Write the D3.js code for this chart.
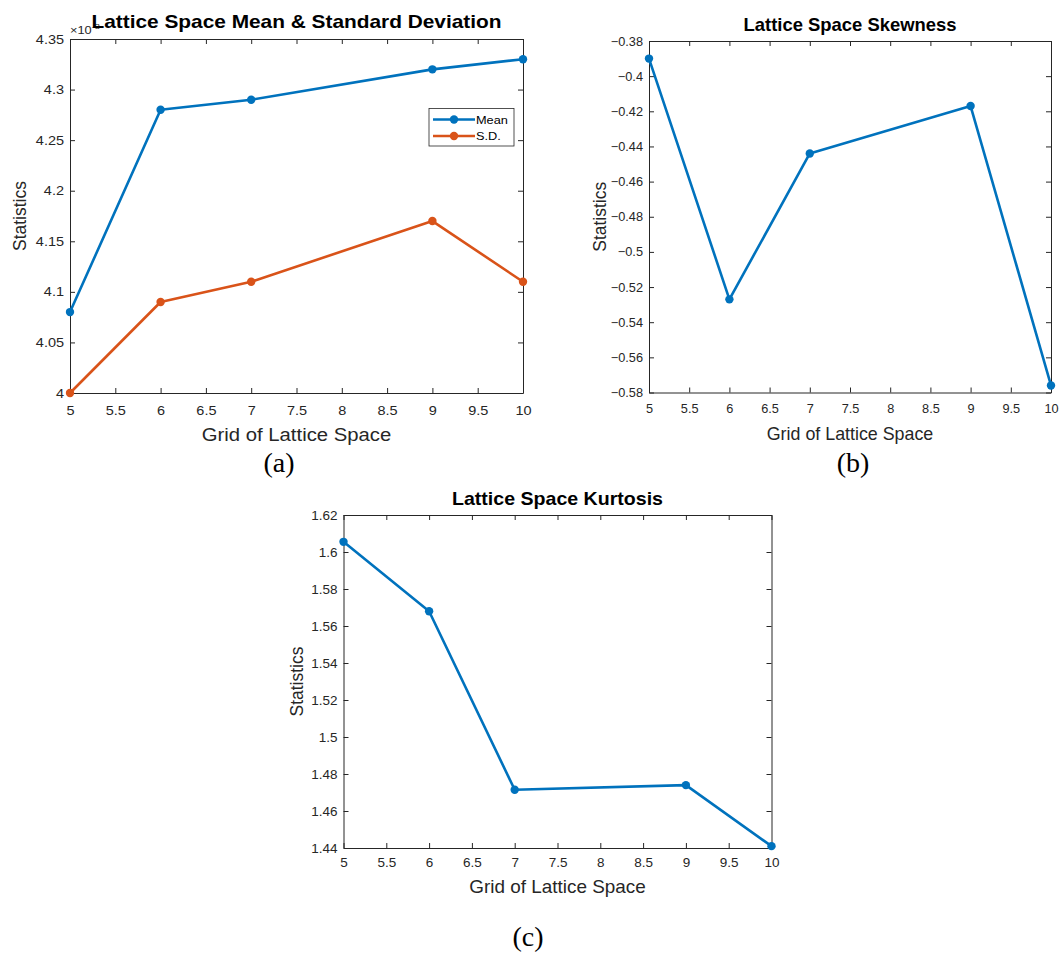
<!DOCTYPE html>
<html>
<head>
<meta charset="utf-8">
<script src="https://cdn.jsdelivr.net/npm/d3@7"></script>
<style>
  html, body { margin: 0; padding: 0; background: #fff; }
  svg { display: block; }
</style>
</head>
<body>
<script>
// Grid sizes of the lattice space (x values shared by all panels)
const grid = [5, 6, 7, 9, 10];

// Panel (a): mean and standard deviation (plotted on a x10^-3 axis)
const meanVals = [4.08e-3, 4.28e-3, 4.29e-3, 4.32e-3, 4.33e-3];
const sdVals   = [4.00e-3, 4.09e-3, 4.11e-3, 4.17e-3, 4.11e-3];
const seriesNames = ["Mean", "S.D."];

// Panel (b): skewness
const skewVals = [-0.390, -0.527, -0.444, -0.417, -0.576];

// Panel (c): kurtosis
const kurtVals = [1.6055, 1.568, 1.4715, 1.474, 1.441];

// Tick values
const xTicks    = [5, 5.5, 6, 6.5, 7, 7.5, 8, 8.5, 9, 9.5, 10];
const msTicks   = [4.00e-3, 4.05e-3, 4.10e-3, 4.15e-3, 4.20e-3, 4.25e-3, 4.30e-3, 4.35e-3];
const skewTicks = [-0.58, -0.56, -0.54, -0.52, -0.50, -0.48, -0.46, -0.44, -0.42, -0.40, -0.38];
const kurtTicks = [1.44, 1.46, 1.48, 1.50, 1.52, 1.54, 1.56, 1.58, 1.60, 1.62];

const BLUE = "#0072BD", ORANGE = "#D95319", AXIS = "#262626";
const SANS = "'Liberation Sans', Arial, Helvetica, sans-serif";
const SERIF = "'Liberation Serif', 'Times New Roman', serif";

const svg = d3.select("body").append("svg")
  .attr("width", 1059).attr("height", 973)
  .style("font-family", SANS);

function drawPanel(cfg) {
  const g = svg.append("g");
  const x = d3.scaleLinear().domain([5, 10]).range([cfg.x0, cfg.x1]);
  const y = d3.scaleLinear().domain(cfg.yDomain).range([cfg.y1, cfg.y0]);
  const k = cfg.kx;

  const styleAxis = sel => {
    sel.attr("font-size", null).attr("font-family", null);
    sel.select(".domain").attr("stroke", AXIS).attr("stroke-width", 1);
    sel.selectAll(".tick line").attr("stroke", AXIS).attr("stroke-width", 1);
    sel.selectAll(".tick text")
      .attr("fill", AXIS)
      .style("font-size", "12.5px")
      .style("font-family", SANS);
  };

  // bottom axis with labels
  const bx = g.append("g").attr("transform", `translate(0,${cfg.y1})`)
    .call(d3.axisBottom(x).tickValues(xTicks).tickSizeInner(-5).tickSizeOuter(0)
      .tickPadding(cfg.xPad).tickFormat(d3.format("~g")));
  styleAxis(bx);
  bx.selectAll(".tick text").attr("transform", `scale(${k},1)`);

  // top axis, ticks only
  const tx = g.append("g").attr("transform", `translate(0,${cfg.y0})`)
    .call(d3.axisTop(x).tickValues(xTicks).tickSizeInner(-5).tickSizeOuter(0).tickFormat(""));
  styleAxis(tx);

  // left axis with labels
  const ly = g.append("g").attr("transform", `translate(${cfg.x0},0)`)
    .call(d3.axisLeft(y).tickValues(cfg.yTicks).tickSizeInner(-5).tickSizeOuter(0)
      .tickPadding(6).tickFormat(cfg.yFmt));
  styleAxis(ly);
  ly.selectAll(".tick text").attr("transform", `scale(${k},1)`).attr("x", -6 / k);

  // right axis, ticks only
  const ry = g.append("g").attr("transform", `translate(${cfg.x1},0)`)
    .call(d3.axisRight(y).tickValues(cfg.yTicks).tickSizeInner(-5).tickSizeOuter(0).tickFormat(""));
  styleAxis(ry);

  // series lines and markers
  const line = d3.line().x(d => x(d[0])).y(d => y(d[1]));
  cfg.series.forEach(s => {
    const pts = d3.zip(grid, s.values);
    g.append("path").datum(pts)
      .attr("d", line).attr("fill", "none")
      .attr("stroke", s.color).attr("stroke-width", 2.6)
      .attr("stroke-linejoin", "round");
    g.selectAll(null).data(pts).enter().append("circle")
      .attr("cx", d => x(d[0])).attr("cy", d => y(d[1]))
      .attr("r", 4.2).attr("fill", s.color);
  });

  // title
  const cx = (cfg.x0 + cfg.x1) / 2;
  const title = g.append("text")
    .attr("x", cx).attr("y", cfg.titleY)
    .attr("text-anchor", "middle")
    .attr("textLength", cfg.titleW).attr("lengthAdjust", "spacingAndGlyphs")
    .style("font-size", "18.5px").style("font-weight", "bold").attr("fill", "#000")
    .text(cfg.title);

  // x axis label
  g.append("text")
    .attr("transform", `translate(${cx},${cfg.xlabelY}) scale(${k},1)`)
    .attr("text-anchor", "middle").attr("fill", AXIS)
    .style("font-size", "17.5px")
    .text("Grid of Lattice Space");

  // y axis label
  g.append("text")
    .attr("transform", `translate(${cfg.ylabelX},${(cfg.y0 + cfg.y1) / 2}) rotate(-90)`)
    .attr("text-anchor", "middle").attr("fill", AXIS)
    .style("font-size", "17.5px")
    .text("Statistics");

  // panel caption
  svg.append("text")
    .attr("x", cfg.capX).attr("y", cfg.capY)
    .attr("text-anchor", "middle").attr("fill", "#000")
    .style("font-family", SERIF).style("font-size", "28px")
    .text(cfg.caption);

  return { g, x, y, title };
}

// (a) Mean & standard deviation
const pa = drawPanel({
  x0: 70, x1: 523, y0: 39, y1: 393, kx: 1.16, xPad: 13,
  yDomain: [4.00e-3, 4.35e-3], yTicks: msTicks,
  yFmt: d => d3.format("~g")(+(d * 1e3).toFixed(4)),
  series: [{ values: meanVals, color: BLUE }, { values: sdVals, color: ORANGE }],
  title: "Lattice Space Mean & Standard Deviation", titleW: 410, titleY: 27.5,
  xlabelY: 441, ylabelX: 26, caption: "(a)", capX: 279, capY: 472
});

// exponent marker of the y axis (the title is drawn over it)
const expo = pa.g.append("text")
  .attr("transform", `translate(70,34) scale(1.16,1)`)
  .attr("fill", AXIS).style("font-size", "11px");
expo.append("tspan").text("×10");
expo.append("tspan").attr("dy", -5).style("font-size", "8px").text("-3");
pa.title.raise();

// legend
const legend = pa.g.append("g");
legend.append("rect")
  .attr("x", 429).attr("y", 108.5).attr("width", 85).attr("height", 37.5)
  .attr("fill", "#fff").attr("stroke", AXIS).attr("stroke-width", 0.8);
[{ name: seriesNames[0], color: BLUE }, { name: seriesNames[1], color: ORANGE }].forEach((s, i) => {
  const ly = 119.5 + i * 16.5;
  legend.append("line").attr("x1", 433).attr("x2", 475).attr("y1", ly).attr("y2", ly)
    .attr("stroke", s.color).attr("stroke-width", 2.6);
  legend.append("circle").attr("cx", 454).attr("cy", ly).attr("r", 4.2).attr("fill", s.color);
  legend.append("text")
    .attr("transform", `translate(476,${ly + 4}) scale(1.16,1)`)
    .attr("fill", "#000").style("font-size", "11px").text(s.name);
});

// (b) Skewness
drawPanel({
  x0: 649, x1: 1051, y0: 41, y1: 392.5, kx: 1.02, xPad: 12,
  yDomain: [-0.58, -0.38], yTicks: skewTicks,
  yFmt: d3.format("~g"),
  series: [{ values: skewVals, color: BLUE }],
  title: "Lattice Space Skewness", titleW: 213, titleY: 31,
  xlabelY: 440, ylabelX: 606, caption: "(b)", capX: 853, capY: 472
});

// (c) Kurtosis
drawPanel({
  x0: 343.5, x1: 771.5, y0: 515, y1: 848, kx: 1.08, xPad: 10,
  yDomain: [1.44, 1.62], yTicks: kurtTicks,
  yFmt: d3.format("~g"),
  series: [{ values: kurtVals, color: BLUE }],
  title: "Lattice Space Kurtosis", titleW: 211, titleY: 505,
  xlabelY: 893, ylabelX: 303, caption: "(c)", capX: 528, capY: 946
});
</script>
</body>
</html>
